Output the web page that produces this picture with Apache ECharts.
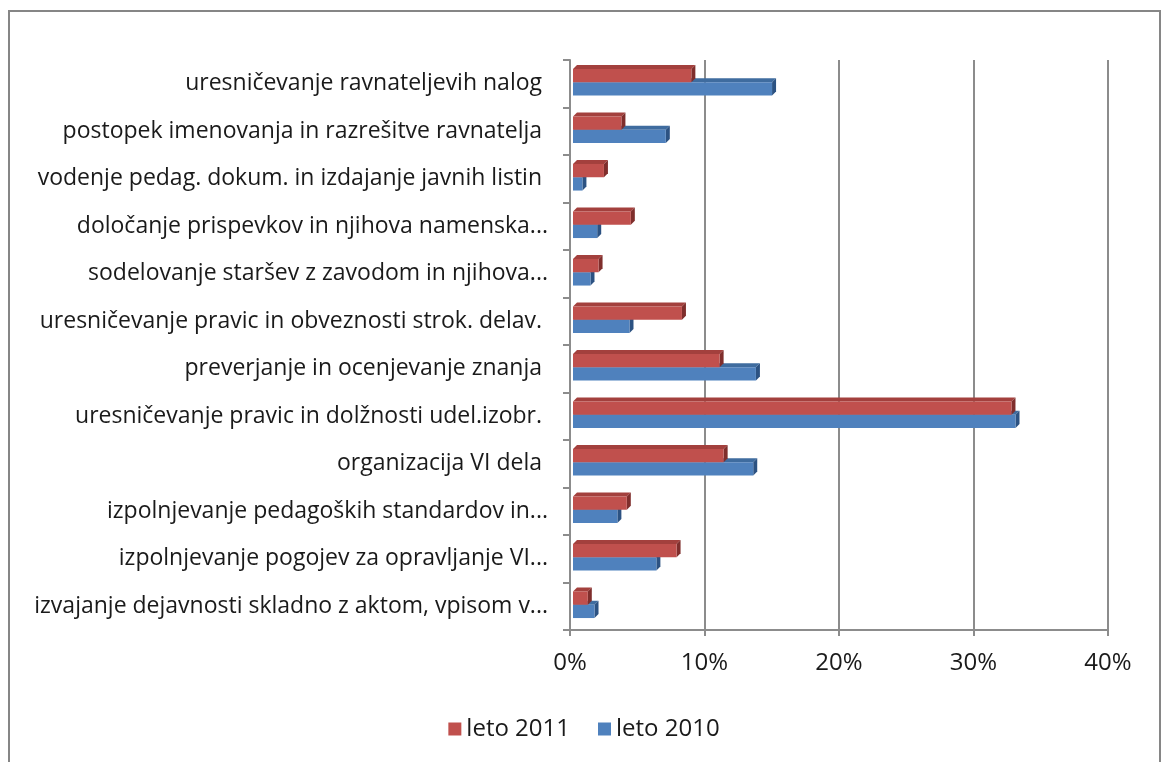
<!DOCTYPE html>
<html lang="sl">
  <head>
    <meta charset="UTF-8" />
    <title>Chart</title>
    <script src="https://cdn.jsdelivr.net/npm/echarts@6.0.0/dist/echarts.min.js"></script>
    <style>
      html, body { margin: 0; padding: 0; background: #fff; }
      #main { width: 1168px; height: 762px; }
    </style>
  </head>
  <body>
    <div id="main"></div>
    <script>
      // kategorije od zgoraj navzdol
      var categories = [
        'uresničevanje ravnateljevih nalog ',
        'postopek imenovanja in razrešitve ravnatelja ',
        'vodenje pedag. dokum. in izdajanje javnih listin ',
        'določanje prispevkov in njihova namenska...',
        'sodelovanje staršev z zavodom in njihova...',
        'uresničevanje pravic in obveznosti strok. delav. ',
        'preverjanje in ocenjevanje znanja ',
        'uresničevanje pravic in dolžnosti udel.izobr. ',
        'organizacija VI dela ',
        'izpolnjevanje pedagoških standardov in...',
        'izpolnjevanje pogojev za opravljanje VI...',
        'izvajanje dejavnosti skladno z aktom, vpisom v...'
      ]
      var leto2011 = [0.088, 0.036, 0.023, 0.043, 0.019, 0.081, 0.109, 0.326, 0.112, 0.040, 0.077, 0.011]
      var leto2010 = [0.148, 0.069, 0.007, 0.018, 0.013, 0.042, 0.136, 0.329, 0.134, 0.033, 0.062, 0.016]
      var xTicks = [0, 0.1, 0.2, 0.3, 0.4]

      var chart = echarts.init(document.getElementById('main'))

      // 3D stolpec: sprednja ploskev + zgornja + desna
      function bar3d(upper, colors) {
        return function (params, api) {
          var idx = api.value(1)
          var start = api.coord([0, idx])
          var end = api.coord([api.value(0), idx])
          var band = api.size([0, 1])[1]
          var h = band * 0.28
          var mid = start[1] - 1.5
          var y0 = upper ? mid - h : mid
          var y1 = y0 + h
          var x0 = start[0] + 3
          var x1 = Math.max(end[0] + 3, x0 + 1)
          var d = 4
          return {
            type: 'group',
            children: [
              {
                type: 'polygon',
                shape: { points: [[x0, y0], [x1, y0], [x1 + d, y0 - d], [x0 + d, y0 - d]] },
                style: { fill: colors[1] }
              },
              {
                type: 'polygon',
                shape: { points: [[x1, y0], [x1 + d, y0 - d], [x1 + d, y1 - d], [x1, y1]] },
                style: { fill: colors[2] }
              },
              {
                type: 'rect',
                shape: { x: x0, y: y0, width: x1 - x0, height: h },
                style: { fill: colors[0] }
              }
            ]
          }
        }
      }

      var red = ['#C0504D', '#A3403D', '#7F2E2C']
      var blue = ['#4F81BD', '#3F6C9F', '#2C5282']

      var option = {
        animation: false,
        textStyle: { fontFamily: 'Open Sans' },
        graphic: [
          {
            type: 'rect',
            shape: { x: 9, y: 11, width: 1151, height: 760 },
            style: { fill: 'none', stroke: '#868686', lineWidth: 2 },
            silent: true
          }
        ],
        legend: {
          bottom: 16,
          left: 'center',
          data: ['leto 2011', 'leto 2010'],
          itemWidth: 13,
          itemHeight: 13,
          itemGap: 28,
          icon: 'rect',
          textStyle: { fontSize: 24, color: '#1a1a1a', fontFamily: 'Open Sans' }
        },
        grid: { left: 570, right: 60, top: 60, bottom: 132, containLabel: false },
        xAxis: {
          type: 'value',
          min: xTicks[0],
          max: xTicks[xTicks.length - 1],
          interval: 0.1,
          axisLine: { show: true, lineStyle: { color: '#8c8c8c', width: 2 } },
          axisTick: { show: true, length: 6, lineStyle: { color: '#8c8c8c', width: 2 } },
          splitLine: { show: true, lineStyle: { color: '#8c8c8c', width: 2 } },
          axisLabel: {
            margin: 21,
            fontSize: 24,
            fontFamily: 'Open Sans',
            color: '#1a1a1a',
            formatter: function (v) { return Math.round(v * 100) + '%' }
          }
        },
        yAxis: {
          type: 'category',
          inverse: true,
          data: categories,
          axisLine: { show: true, lineStyle: { color: '#8c8c8c', width: 2 } },
          axisTick: { show: true, length: 7, lineStyle: { color: '#8c8c8c', width: 2 } },
          axisLabel: { margin: 22, fontSize: 23, color: '#1a1a1a', padding: [6, 0, 0, 0] }
        },
        series: [
          {
            name: 'leto 2011',
            type: 'custom',
            z: 3,
            itemStyle: { color: red[0] },
            renderItem: bar3d(true, red),
            encode: { x: 0, y: 1 },
            data: leto2011.map(function (v, i) { return [v, i] })
          },
          {
            name: 'leto 2010',
            type: 'custom',
            z: 2,
            itemStyle: { color: blue[0] },
            renderItem: bar3d(false, blue),
            encode: { x: 0, y: 1 },
            data: leto2010.map(function (v, i) { return [v, i] })
          }
        ]
      }
      chart.setOption(option)
    </script>
  </body>
</html>
